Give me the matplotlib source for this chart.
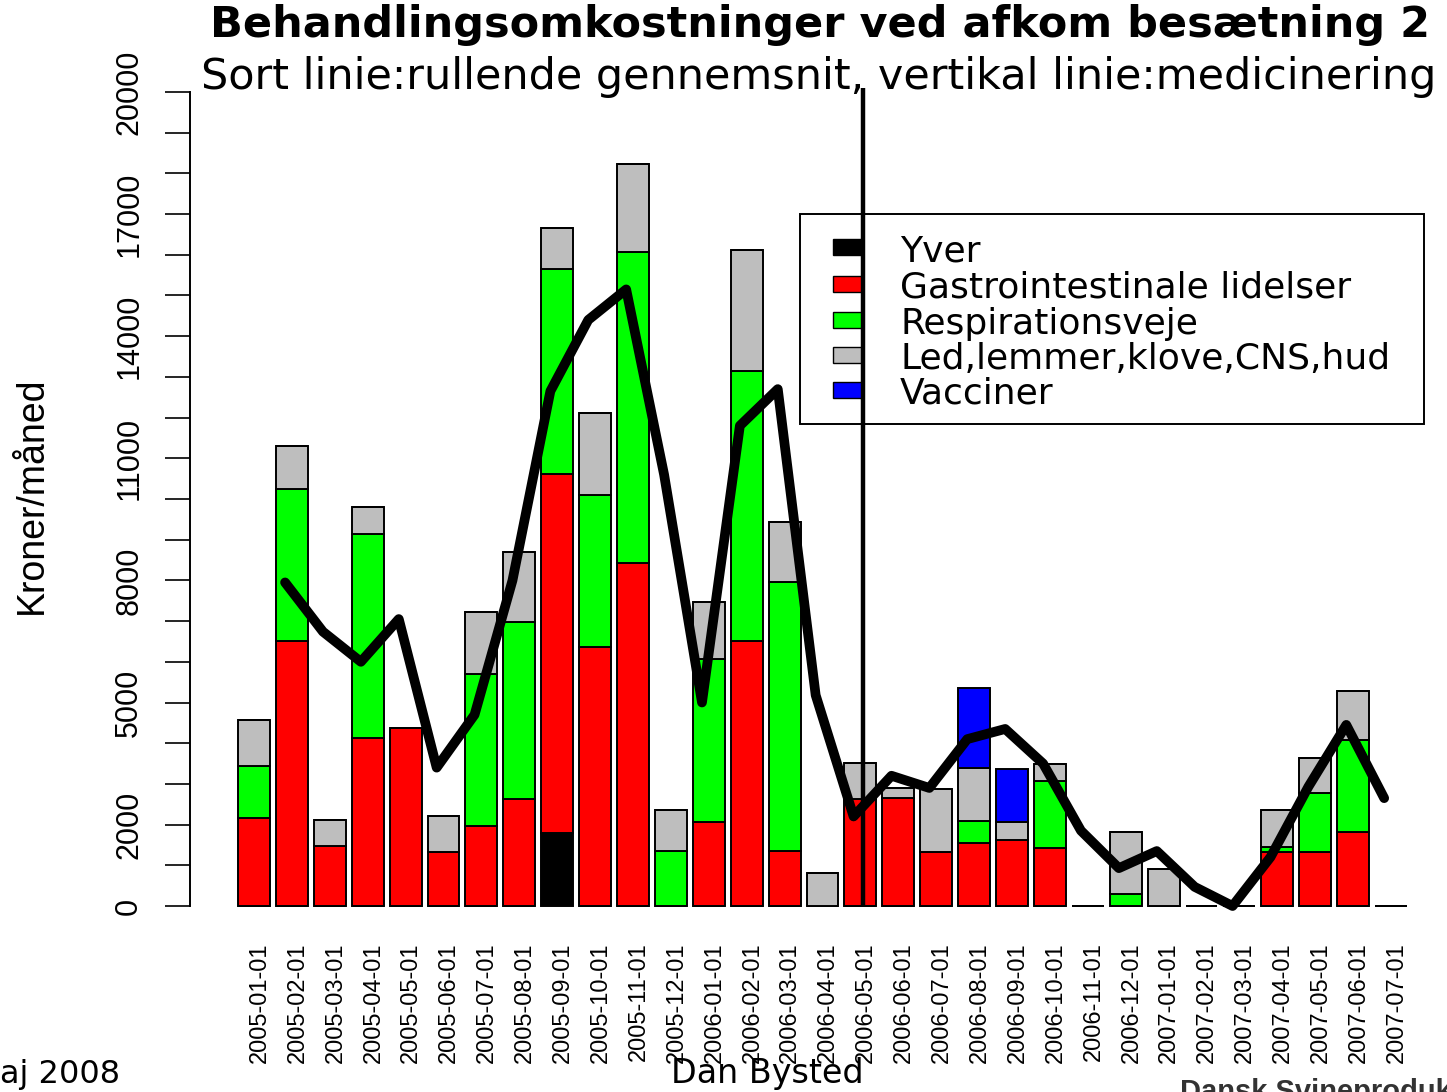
import numpy as np
import matplotlib
matplotlib.use("Agg")
import matplotlib.pyplot as plt
from matplotlib.patches import Rectangle

W, H = 1447, 1092

months = ["2005-01-01", "2005-02-01", "2005-03-01", "2005-04-01", "2005-05-01",
          "2005-06-01", "2005-07-01", "2005-08-01", "2005-09-01", "2005-10-01",
          "2005-11-01", "2005-12-01", "2006-01-01", "2006-02-01", "2006-03-01",
          "2006-04-01", "2006-05-01", "2006-06-01", "2006-07-01", "2006-08-01",
          "2006-09-01", "2006-10-01", "2006-11-01", "2006-12-01", "2007-01-01",
          "2007-02-01", "2007-03-01", "2007-04-01", "2007-05-01", "2007-06-01",
          "2007-07-01"]

# kroner per month, per category
yver   = [0, 0, 0, 0, 0, 0, 0, 0, 1790, 0, 0, 0, 0, 0, 0, 0,
          0, 0, 0, 0, 0, 0, 0, 0, 0, 0, 0, 0, 0, 0, 0]
gastro = [2150, 6520, 1480, 4120, 4370, 1335, 1970, 2630, 8830, 6370, 8430, 0,
          2060, 6510, 1360, 0, 2620, 2650, 1335, 1540, 1620, 1430, 0, 0, 0,
          0, 0, 1335, 1335, 1830, 0]
resp   = [1300, 3730, 0, 5020, 0, 0, 3730, 4360, 5040, 3730, 7640, 1350,
          4010, 6640, 6590, 0, 0, 0, 0, 560, 0, 1640, 0, 290, 0,
          0, 0, 120, 1430, 2250, 0]
led    = [1120, 1060, 630, 670, 0, 880, 1530, 1720, 1010, 2010, 2170, 1010,
          1390, 2980, 1480, 810, 890, 240, 1540, 1300, 435, 420, 0, 1535, 910,
          0, 0, 900, 875, 1200, 0]
vacc   = [0, 0, 0, 0, 0, 0, 0, 0, 0, 0, 0, 0, 0, 0, 0, 0,
          0, 0, 0, 1965, 1310, 0, 0, 0, 0, 0, 0, 0, 0, 0, 0]

# rolling average (black line)
rolling = [np.nan, 7950, 6740, 6000, 7050, 3400, 4700, 8000, 12650, 14400,
           15150, 10600, 5000, 11800, 12700, 5180, 2200, 3200, 2900, 4100,
           4350, 3500, 1850, 930, 1350, 470, 0, 1200, 2930, 4450, 2650]

medicin_pos = 16.07

categories = ["Yver", "Gastrointestinale lidelser", "Respirationsveje",
              "Led,lemmer,klove,CNS,hud", "Vacciner"]
colors = ["black", "#ff0000", "#00ff00", "#bebebe", "#0000ff"]

ytick_values = list(range(0, 20001, 1000))
ytick_shown = [0, 2000, 5000, 8000, 11000, 14000, 17000, 20000]
ytick_labels = [str(v) if v in ytick_shown else "" for v in ytick_values]


def px(x, y):
    return x / W, 1 - y / H


fig = plt.figure(figsize=(W / 100, H / 100), dpi=100)
fig.patch.set_facecolor("white")

left, right, top, bottom = 190, 1425, 88, 906
ax = fig.add_axes([left / W, 1 - bottom / H, (right - left) / W, (bottom - top) / H])
step = 37.9
ax.set_xlim((left - 254) / step, (right - 254) / step)
ax.set_ylim(0, (bottom - top) / 40.7 * 1000)

x = np.arange(len(months))
base = np.zeros(len(months))
for vals, col in zip([yver, gastro, resp, led, vacc], colors):
    vals = np.array(vals, dtype=float)
    ax.bar(x, vals, width=0.84, bottom=base, color=col, edgecolor="black",
           linewidth=1.4, clip_on=False, zorder=2)
    base = base + vals

ax.plot(x - 0.18, rolling, color="black", lw=7, solid_joinstyle="round",
        solid_capstyle="round", clip_on=False, zorder=4)

# legend box
ax.add_patch(Rectangle(px(800, 424), 624 / W, 210 / H, transform=fig.transFigure,
                       facecolor="white", edgecolor="black", lw=1.4,
                       clip_on=False, zorder=5))
row_y = [247, 284, 320, 355, 390]
for lab, col, ry in zip(categories, colors, row_y):
    ax.add_patch(Rectangle(px(833, ry + 8), 30 / W, 16 / H, transform=fig.transFigure,
                           facecolor=col, edgecolor="black", lw=1.0,
                           clip_on=False, zorder=6))
    ax.text(*px(900, ry + 4), lab, transform=fig.transFigure, fontsize=26,
            family="DejaVu Sans", ha="left", va="center", zorder=6)

ax.axvline(medicin_pos, color="black", lw=3.2, zorder=7)

for s in ["top", "right", "bottom"]:
    ax.spines[s].set_visible(False)
ax.spines["left"].set_bounds(0, 20000)
ax.spines["left"].set_linewidth(1.4)

ax.set_yticks(ytick_values)
ax.set_yticklabels(ytick_labels, rotation=90, va="center",
                   fontsize=22, family="Liberation Sans")
ax.tick_params(axis="y", length=18, width=1.2, pad=15)

ax.set_xticks(x + 0.15)
ax.set_xticklabels(months, rotation=90, va="top", ha="center",
                   fontsize=17, family="Liberation Sans")
ax.tick_params(axis="x", length=0, pad=26)

fig.text(*px(820, 25), "Behandlingsomkostninger ved afkom besætning 2",
         ha="center", va="center", fontsize=31, fontweight="bold", family="DejaVu Sans")
fig.text(*px(819, 77), "Sort linie:rullende gennemsnit, vertikal linie:medicinering",
         ha="center", va="center", fontsize=31, family="DejaVu Sans")
fig.text(*px(32, 495), "Kroner/måned", rotation=90, ha="center", va="center",
         fontsize=27, family="Liberation Sans")

fig.text(*px(0, 1074), "aj 2008", ha="left", va="center", fontsize=23, family="DejaVu Sans")
fig.text(*px(767, 1074), "Dan Bysted", ha="center", va="center", fontsize=24,
         family="DejaVu Sans")
fig.text(*px(1180, 1078), "Dansk Svineproduktion", ha="left", va="top", fontsize=21,
         fontweight="bold", color="#333333", family="Liberation Sans")

fig.savefig("out.png", dpi=100)
